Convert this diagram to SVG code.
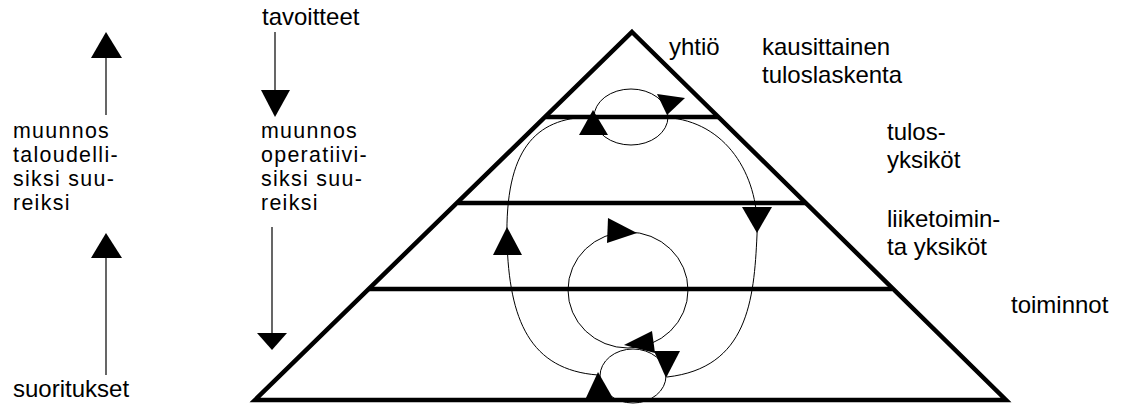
<svg xmlns="http://www.w3.org/2000/svg" width="1125" height="405" viewBox="0 0 1125 405">
<style>
text{font-family:"Liberation Sans",Arial,sans-serif;font-size:24px;fill:#000}
text.col{font-size:21.4px;letter-spacing:1.3px}
.thick{stroke:#000;stroke-width:4.5;fill:none;stroke-linejoin:miter}
.thin{stroke:#000;stroke-width:1;fill:none}
.tri{fill:#000;stroke:none}
.ln{stroke:#000;stroke-width:1.2}
</style>
<rect width="1125" height="405" fill="#fff"/>
<g id="pyramid">
<polygon class="thick" points="632,32 1006,400 255,400"/>
<line class="thick" x1="546" y1="117" x2="718" y2="117"/>
<line class="thick" x1="458" y1="203" x2="806" y2="203"/>
<line class="thick" x1="369" y1="289" x2="892" y2="289"/>
</g>
<g id="left-column">
<line class="ln" x1="106" y1="58" x2="106" y2="115"/>
<polygon class="tri" points="106,32 122,58 91,58"/>
<line class="ln" x1="106" y1="258" x2="106" y2="375"/>
<polygon class="tri" points="106,233 122,258 91,258"/>
<text class="col" x="13" y="138"><tspan x="13" y="138">muunnos</tspan><tspan x="13" y="162">taloudelli-</tspan><tspan x="13" y="186">siksi suu-</tspan><tspan x="13" y="210">reiksi</tspan></text>
<text x="13" y="397">suoritukset</text>
</g>
<g id="middle-column">
<text x="262" y="25">tavoitteet</text>
<line class="ln" x1="275" y1="32" x2="275" y2="90"/>
<polygon class="tri" points="261,90 290,90 275,117"/>
<text class="col" x="261" y="138"><tspan x="261" y="138">muunnos</tspan><tspan x="261" y="162">operatiivi-</tspan><tspan x="261" y="186">siksi suu-</tspan><tspan x="261" y="210">reiksi</tspan></text>
<line class="ln" x1="272" y1="227" x2="272" y2="333"/>
<polygon class="tri" points="257,333 287,333 272,350"/>
</g>
<g id="labels-right">
<text x="669" y="55">yhtiö</text>
<text x="762" y="55"><tspan x="762" y="55">kausittainen</tspan><tspan x="762" y="83">tuloslaskenta</tspan></text>
<text x="887" y="140"><tspan x="887" y="140">tulos-</tspan><tspan x="887" y="168">yksiköt</tspan></text>
<text x="887" y="227"><tspan x="887" y="227">liiketoimin-</tspan><tspan x="887" y="255">ta yksiköt</tspan></text>
<text x="1011" y="313">toiminnot</text>
</g>
<g id="connectors">
<ellipse class="thin" cx="631" cy="117" rx="37" ry="28"/>
<ellipse class="thin" cx="628" cy="290" rx="60" ry="58"/>
<ellipse class="thin" cx="633" cy="376" rx="33" ry="27"/>
<path class="thin" d="M590,117 C535,118 505,150 507,240 C509,320 530,370 598,375"/>
<path class="thin" d="M672,118 C730,125 760,180 757,235 C754,300 748,368 667,377"/>
<polygon class="tri" points="593,110 608,135 579,135"/>
<polygon class="tri" points="657,94 685,98 667,115"/>
<polygon class="tri" points="742,207 772,207 757,233"/>
<polygon class="tri" points="507,227 522,255 493,255"/>
<polygon class="tri" points="608,218 637,233 607,243"/>
<polygon class="tri" points="652,331 655,353 624,345"/>
<polygon class="tri" points="654,351 680,351 666,378"/>
<polygon class="tri" points="598,372 614,400 585,400"/>
</g>
</svg>
